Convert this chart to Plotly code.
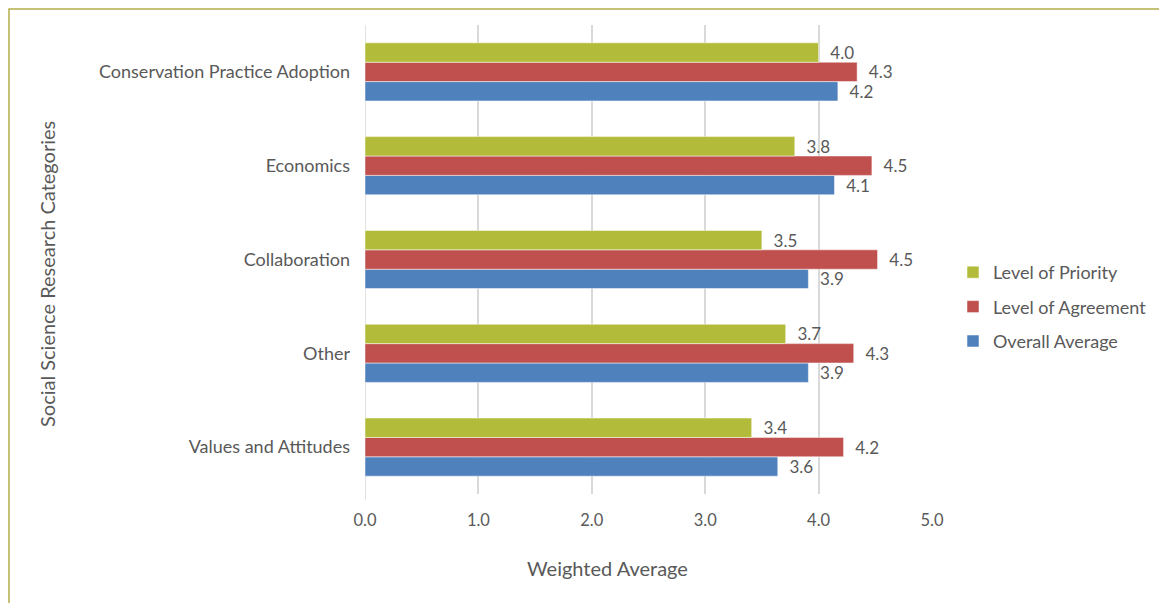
import plotly.graph_objects as go

categories = ["Conservation Practice Adoption", "Economics", "Collaboration", "Other", "Values and Attitudes"]
priority = [4.00, 3.79, 3.50, 3.71, 3.41]
agreement = [4.34, 4.47, 4.52, 4.31, 4.22]
overall = [4.17, 4.14, 3.91, 3.91, 3.64]
x_ticks = [0, 1, 2, 3, 4, 5]
x_tick_labels = ["0.0", "1.0", "2.0", "3.0", "4.0", "5.0"]

FONT = "Lato, 'Open Sans', sans-serif"
GREY = "#595959"

# page body has an 8px offset; plot area target: x 365..932, y 25..494 (page px)
OFF = 8
L, R, T, B = 365 - OFF, 1167 - 932 + OFF, 25 - OFF, 603 - 494 + OFF
PW, PH = 932 - 365, 494 - 25

def px(x):
    return (x - 365) / PW

def py(y):
    return (494 - y) / PH

fig = go.Figure()
series = [
    ("Overall Average", overall, "#4F81BD", 3),
    ("Level of Agreement", agreement, "#C0504D", 2),
    ("Level of Priority", priority, "#B3BC3A", 1),
]
for name, vals, col, rank in series:
    fig.add_trace(go.Bar(
        y=categories, x=vals, name=name, orientation="h",
        marker=dict(color=col, line=dict(color="white", width=0.5)),
        texttemplate="\u00a0\u00a0%{x:.1f}", textposition="outside",
        constraintext="none",
        textfont=dict(family=FONT, size=17, color=GREY),
        cliponaxis=False, legendgroup=name, legendrank=rank,
    ))

fig.update_layout(
    width=1167, height=603,
    paper_bgcolor="white", plot_bgcolor="white",
    margin=dict(l=L, r=R, t=T, b=B),
    barmode="group", bargap=0.38, bargroupgap=0,
    font=dict(family=FONT, size=16, color=GREY),
    showlegend=True,
    legend=dict(x=px(953), y=py(254), xanchor="left", yanchor="top",
                traceorder="grouped", tracegroupgap=8,
                font=dict(family=FONT, size=18, color=GREY)),
    xaxis=dict(range=[0, 5], tickvals=x_ticks, ticktext=x_tick_labels,
               showgrid=True, gridcolor="#D9D9D9", gridwidth=1.5,
               zeroline=False, showline=False, ticks="", ticklen=0,
               ticklabelstandoff=14,
               tickfont=dict(family=FONT, size=16.5, color=GREY)),
    yaxis=dict(categoryorder="array", categoryarray=categories[::-1],
               showgrid=False, zeroline=False, showline=False,
               ticks="", ticklabelstandoff=14,
               tickfont=dict(family=FONT, size=18, color=GREY)),
    shapes=[dict(type="line", xref="x", yref="paper", x0=0, x1=0, y0=py(500), y1=1.0,
                 line=dict(color="#D9D9D9", width=1.5), layer="below")],
    annotations=[
        dict(text="Weighted Average", xref="paper", yref="paper",
             x=px(607), y=py(568), xanchor="center", yanchor="middle",
             showarrow=False, font=dict(family=FONT, size=20, color=GREY)),
        dict(text="Social Science Research Categories", xref="paper", yref="paper",
             x=px(47), y=py(274), xanchor="center", yanchor="middle",
             textangle=-90, showarrow=False, font=dict(family=FONT, size=20, color=GREY)),
    ],
)
# chart frame
fig.add_shape(type="rect", xref="paper", yref="paper",
              x0=px(9), x1=px(1200), y0=py(640), y1=py(9),
              line=dict(color="#B3AD4A", width=1.5), fillcolor="rgba(0,0,0,0)")

fig.write_html("out.html")
